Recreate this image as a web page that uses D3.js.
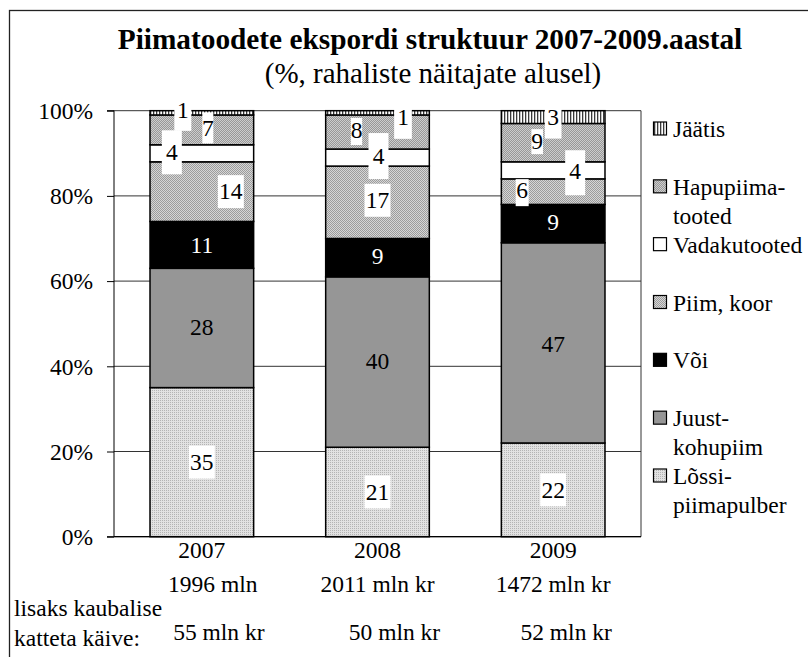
<!DOCTYPE html>
<html>
<head>
<meta charset="utf-8">
<script src="https://cdn.jsdelivr.net/npm/d3@7"></script>
<style>
  html, body { margin: 0; padding: 0; background: #fff; }
  svg { display: block; }
  text { font-family: "Liberation Serif", "Times New Roman", serif; }
</style>
</head>
<body>
<svg id="chart" width="808" height="657"></svg>
<script>
// ---------- data ----------
const years = ["2007", "2008", "2009"];
const seriesNames = ["Lõssipiimapulber", "Juust-kohupiim", "Või", "Piim, koor", "Vadakutooted", "Hapupiimatooted", "Jäätis"];
const legendLabels = [["Lõssi-", "piimapulber"], ["Juust-", "kohupiim"], ["Või"], ["Piim, koor"], ["Vadakutooted"], ["Hapupiima-", "tooted"], ["Jäätis"]];
const lossipiimapulber = [35, 21, 22];
const juustKohupiim = [28, 40, 47];
const voi = [11, 9, 9];
const piimKoor = [14, 17, 6];
const vadakutooted = [4, 4, 4];
const hapupiimatooted = [7, 8, 9];
const jaatis = [1, 1, 3];
const totals = ["1996 mln", "2011 mln kr", "1472 mln kr"];
const extraTurnover = ["55 mln kr", "50 mln kr", "52 mln kr"];
const yTickValues = [0, 20, 40, 60, 80, 100];
const titleText = "Piimatoodete ekspordi struktuur 2007-2009.aastal";
const subtitleText = "(%, rahaliste näitajate alusel)";
const noteLines = ["lisaks kaubalise", "katteta käive:"];

// ---------- label layout (nudges / box sizes, per series x year) ----------
const lblDx = [[0,0,0],[0,0,0],[0,0,0],[29,0,-31],[-30,1,22],[6,-21,-16],[-19,25.5,0]];
const lblDy = [[0,0,0],[-1,-1,1],[0,-1.5,-1],[0,-2,-1.5],[-1,-1,1.4],[-2,-2,-1],[-3,4,0]];
const boxW  = [[26,26,26],[0,0,0],[0,0,0],[26,26,13],[20,20,20],[11,11.3,11.6],[17,17.7,16.7]];
const boxH  = [[33,33,33],[0,0,0],[0,0,0],[33,33,27],[44,46,45],[31,27,25],[36,42,41]];
const boxDy = [[0,0,0],[0,0,0],[0,0,0],[0,0,2.5],[0,-0.5,1],[0,1.5,0],[3,1,1]];
const totalDx = [11, 0, 0];
const extraDx = [17, 17, 13];

// ---------- build ----------
const seriesValues = [lossipiimapulber, juustKohupiim, voi, piimKoor, vadakutooted, hapupiimatooted, jaatis];
const rows = years.map((yr, i) => {
  const r = { year: yr };
  seriesNames.forEach((s, k) => r[s] = seriesValues[k][i]);
  return r;
});
const stacked = d3.stack().keys(seriesNames)(rows);

const svg = d3.select("#chart");
const fs = 23.5;

// patterns
const defs = svg.append("defs");
const pDots = defs.append("pattern").attr("id", "pat0").attr("width", 2).attr("height", 2).attr("patternUnits", "userSpaceOnUse");
pDots.append("rect").attr("width", 2).attr("height", 2).attr("fill", "#e2e2e2");
pDots.append("rect").attr("width", 1).attr("height", 1).attr("fill", "#b4b4b4");
const pPiim = defs.append("pattern").attr("id", "pat3").attr("width", 2).attr("height", 2).attr("patternUnits", "userSpaceOnUse");
pPiim.append("rect").attr("width", 2).attr("height", 2).attr("fill", "#d6d6d6");
pPiim.append("rect").attr("x", 0).attr("y", 0).attr("width", 1).attr("height", 1).attr("fill", "#9c9c9c");
pPiim.append("rect").attr("x", 1).attr("y", 1).attr("width", 1).attr("height", 1).attr("fill", "#9c9c9c");
const pHapu = defs.append("pattern").attr("id", "pat5").attr("width", 2).attr("height", 2).attr("patternUnits", "userSpaceOnUse");
pHapu.append("rect").attr("width", 2).attr("height", 2).attr("fill", "#cdcdcd");
pHapu.append("rect").attr("x", 1).attr("y", 0).attr("width", 1).attr("height", 1).attr("fill", "#989898");
pHapu.append("rect").attr("x", 0).attr("y", 1).attr("width", 1).attr("height", 1).attr("fill", "#989898");
const pJaa = defs.append("pattern").attr("id", "pat6").attr("width", 3).attr("height", 3).attr("patternUnits", "userSpaceOnUse");
pJaa.append("rect").attr("width", 3).attr("height", 3).attr("fill", "#ffffff");
pJaa.append("rect").attr("width", 1.3).attr("height", 3).attr("fill", "#3a3a3a");

const fills = ["url(#pat0)", "#969696", "#000000", "url(#pat3)", "#ffffff", "url(#pat5)", "url(#pat6)"];

// outer border
svg.append("rect").attr("x", 9.5).attr("y", 10.5).attr("width", 900).attr("height", 900)
  .attr("fill", "none").attr("stroke", "#222").attr("stroke-width", 1.3);

// scales
const plot = { left: 114, right: 641, top: 110.7, bottom: 536.7 };
const x = d3.scaleBand().domain(years).range([plot.left, plot.right]).paddingInner(0.41).paddingOuter(0.205);
const y = d3.scaleLinear().domain([0, 100]).range([plot.bottom, plot.top]);

// title
svg.append("text").attr("x", 430).attr("y", 49).attr("text-anchor", "middle")
  .attr("font-size", 29.3).attr("font-weight", "bold").text(titleText);
svg.append("text").attr("x", 433).attr("y", 83).attr("text-anchor", "middle")
  .attr("font-size", 29).text(subtitleText);

// gridlines
svg.append("g").selectAll("line").data(yTickValues).join("line")
  .attr("x1", plot.left).attr("x2", plot.right)
  .attr("y1", d => y(d)).attr("y2", d => y(d))
  .attr("stroke", "#333").attr("stroke-width", 1);
svg.append("line").attr("x1", plot.right).attr("x2", plot.right).attr("y1", plot.top).attr("y2", plot.bottom)
  .attr("stroke", "#333").attr("stroke-width", 1);

// y axis
const yAxis = svg.append("g").attr("transform", `translate(${plot.left},0)`)
  .call(d3.axisLeft(y).tickValues(yTickValues).tickSize(7).tickPadding(14).tickFormat(d => d + "%"));
yAxis.select(".domain").attr("stroke", "#000").attr("d", `M-7,${plot.top}H0V${plot.bottom}H-7`);
yAxis.selectAll(".tick line").attr("stroke", "#000");
yAxis.selectAll(".tick text").attr("font-size", fs).attr("fill", "#000")
  .attr("font-family", "Liberation Serif").attr("dy", "0.33em");

// bars
const bw = x.bandwidth();
const barG = svg.append("g");
stacked.forEach((ser, k) => {
  barG.append("g").selectAll("rect").data(ser).join("rect")
    .attr("x", d => x(d.data.year))
    .attr("y", d => y(d[1]))
    .attr("width", bw)
    .attr("height", d => y(d[0]) - y(d[1]))
    .attr("fill", fills[k])
    .attr("stroke", "#000").attr("stroke-width", 1.5);
});

// x axis line
svg.append("line").attr("x1", plot.left).attr("x2", plot.right).attr("y1", plot.bottom).attr("y2", plot.bottom)
  .attr("stroke", "#000").attr("stroke-width", 1.2);

// data labels
const lblG = svg.append("g");
stacked.forEach((ser, k) => {
  ser.forEach((d, i) => {
    const cx = x(d.data.year) + bw / 2 + lblDx[k][i];
    const cy = (y(d[0]) + y(d[1])) / 2 + lblDy[k][i];
    if (boxW[k][i] > 0) {
      lblG.append("rect")
        .attr("x", cx - boxW[k][i] / 2).attr("y", cy + boxDy[k][i] - boxH[k][i] / 2)
        .attr("width", boxW[k][i]).attr("height", boxH[k][i]).attr("fill", "#fff");
    }
    lblG.append("text").attr("x", cx).attr("y", cy).attr("dy", "0.33em")
      .attr("text-anchor", "middle").attr("font-size", fs)
      .attr("fill", k === 2 ? "#fff" : "#000")
      .text(d.data[seriesNames[k]]);
  });
});

// category labels
const catG = svg.append("g");
catG.selectAll("text.yr").data(years).join("text").attr("class", "yr")
  .attr("x", d => x(d) + bw / 2).attr("y", 558).attr("text-anchor", "middle").attr("font-size", fs).text(d => d);
catG.selectAll("text.tot").data(totals).join("text").attr("class", "tot")
  .attr("x", (d, i) => x(years[i]) + bw / 2 + totalDx[i]).attr("y", 592).attr("text-anchor", "middle").attr("font-size", fs).text(d => d);
catG.selectAll("text.ext").data(extraTurnover).join("text").attr("class", "ext")
  .attr("x", (d, i) => x(years[i]) + bw / 2 + extraDx[i]).attr("y", 640).attr("text-anchor", "middle").attr("font-size", fs).text(d => d);
catG.selectAll("text.note").data(noteLines).join("text").attr("class", "note")
  .attr("x", 14).attr("y", (d, i) => 616 + i * 30).attr("font-size", fs).text(d => d);

// legend (top to bottom: reverse of stacking order)
const legOrder = d3.range(seriesNames.length).reverse();
const ly = d3.scalePoint().domain(legOrder).range([129, 476]);
const legG = svg.append("g");
legOrder.forEach(k => {
  const cy = ly(k);
  legG.append("rect").attr("x", 653.5).attr("y", cy - 7).attr("width", 13).attr("height", 13)
    .attr("fill", fills[k]).attr("stroke", "#000").attr("stroke-width", 1.2);
  legendLabels[k].forEach((line, j) => {
    legG.append("text").attr("x", 673).attr("y", cy + 8 + j * 29).attr("font-size", fs).text(line);
  });
});
</script>
</body>
</html>
